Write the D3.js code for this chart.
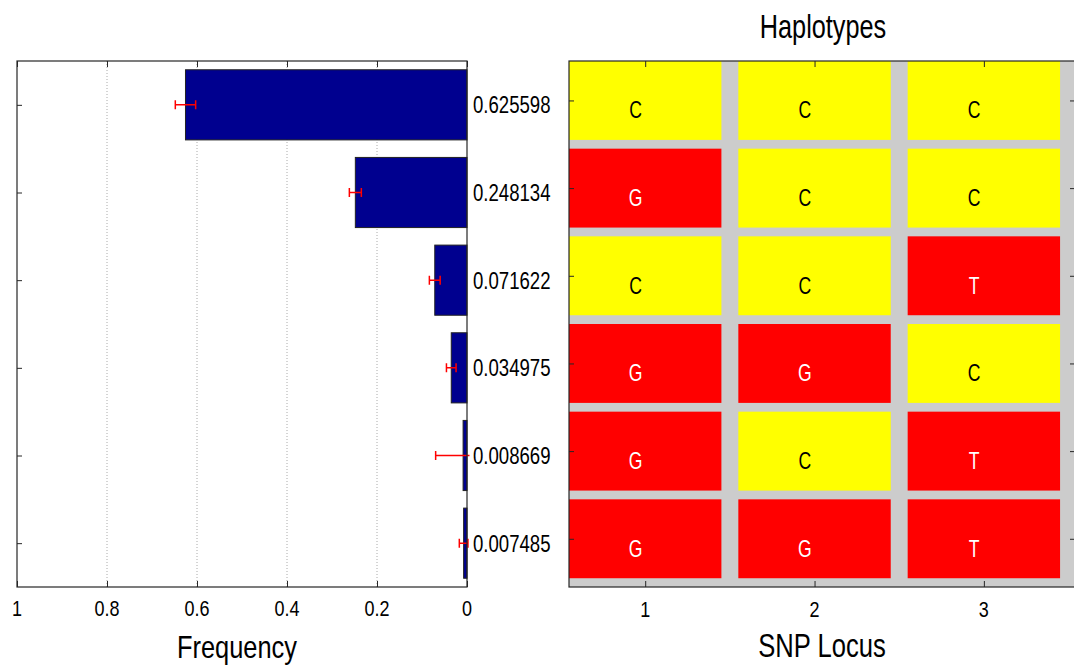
<!DOCTYPE html>
<html>
<head>
<meta charset="utf-8">
<script src="https://cdn.jsdelivr.net/npm/d3@7/dist/d3.min.js"></script>
<style>
  html, body { margin: 0; padding: 0; background: #ffffff; }
  svg { display: block; }
  text { font-family: "Liberation Sans", Arial, Helvetica, sans-serif; fill: #000; }
</style>
</head>
<body>
<svg id="chart" width="1074" height="671"></svg>
<script>
// Haplotype frequencies (top to bottom) with their standard errors
const haplotypeFreq = [0.625598, 0.248134, 0.071622, 0.034975, 0.008669, 0.007485];
const freqError     = [0.0226, 0.0133, 0.012, 0.0107, 0.061, 0.0096];
const freqLabels    = ["0.625598", "0.248134", "0.071622", "0.034975", "0.008669", "0.007485"];

// Alleles at each SNP locus for every haplotype
const snpLoci = [1, 2, 3];
const haplotypes = [
  ["C", "C", "C"],
  ["G", "C", "C"],
  ["C", "C", "T"],
  ["G", "G", "C"],
  ["G", "C", "T"],
  ["G", "G", "T"]
];
const freqTicks = [1, 0.8, 0.6, 0.4, 0.2, 0];

const svg = d3.select("#chart");
const rows = d3.range(1, haplotypes.length + 1);

// Text drawn with a vertical stretch to mimic the tall, narrow figure font
function label(g, x, y, str, size, k, anchor, color) {
  return g.append("g")
    .attr("transform", `translate(${x},${y}) scale(1,${k})`)
    .append("text")
    .attr("text-anchor", anchor || "middle")
    .style("font-size", size + "px")
    .style("fill", color || "#000")
    .text(str);
}

/* ---------------- Left panel: frequency bars ---------------- */
const L = { left: 17, right: 467, top: 61, bottom: 587 };
const xF = d3.scaleLinear().domain([1, 0]).range([L.left, L.right]);
const yRow = d3.scaleLinear().domain([0.5, 6.5]).range([L.top, L.bottom]);

const left = svg.append("g");

// dotted vertical grid
left.selectAll("line.grid")
  .data(freqTicks.filter(t => t > 0 && t < 1))
  .join("line")
  .attr("x1", d => xF(d)).attr("x2", d => xF(d))
  .attr("y1", L.top).attr("y2", L.bottom)
  .attr("stroke", "#aaaaaa").attr("stroke-width", 1)
  .attr("stroke-dasharray", "1,2");

// bars
left.selectAll("rect.bar")
  .data(haplotypeFreq)
  .join("rect")
  .attr("x", d => xF(d))
  .attr("y", (d, i) => yRow(i + 1 - 0.4))
  .attr("width", d => xF(0) - xF(d))
  .attr("height", yRow(1.4) - yRow(0.6))
  .attr("fill", "#00008f")
  .attr("stroke", "#222").attr("stroke-width", 1);

// error bars, clipped to the axes area
svg.append("clipPath").attr("id", "clipL")
  .append("rect").attr("x", L.left).attr("y", L.top)
  .attr("width", L.right - L.left + 2.5).attr("height", L.bottom - L.top);
const eb = left.append("g").attr("clip-path", "url(#clipL)")
  .attr("stroke", "#ff0000").attr("stroke-width", 1.5).attr("fill", "none");
haplotypeFreq.forEach((f, i) => {
  const yc = yRow(i + 1), x0 = xF(f - freqError[i]), x1 = xF(f + freqError[i]);
  eb.append("line").attr("x1", x0).attr("x2", x1).attr("y1", yc).attr("y2", yc);
  eb.append("line").attr("x1", x0).attr("x2", x0).attr("y1", yc - 4.5).attr("y2", yc + 4.5);
  eb.append("line").attr("x1", x1).attr("x2", x1).attr("y1", yc - 4.5).attr("y2", yc + 4.5);
});

// axis ticks (inward)
left.append("g").attr("transform", `translate(0,${L.top})`)
  .call(d3.axisBottom(xF).tickValues(freqTicks).tickSizeInner(6).tickSizeOuter(0).tickFormat(""));
left.append("g").attr("transform", `translate(0,${L.bottom})`)
  .call(d3.axisTop(xF).tickValues(freqTicks).tickSizeInner(6).tickSizeOuter(0).tickFormat(""));
left.append("g").attr("transform", `translate(${L.left},0)`)
  .call(d3.axisRight(yRow).tickValues(rows).tickSizeInner(5).tickSizeOuter(0).tickFormat(""));
left.selectAll(".domain").remove();
left.selectAll(".tick line").attr("stroke", "#262626");

// box
left.append("rect")
  .attr("x", L.left).attr("y", L.top)
  .attr("width", L.right - L.left).attr("height", L.bottom - L.top)
  .attr("fill", "none").attr("stroke", "#262626").attr("stroke-width", 1.2);

// tick labels and value labels
freqTicks.forEach(t => label(left, xF(t), 616, String(t), 18, 1.18));
freqLabels.forEach((s, i) => label(left, L.right + 6, yRow(i + 1) + 8.4, s, 18.6, 1.25, "start"));
label(left, 237, 658, "Frequency", 25.4, 1.2);

/* ---------------- Right panel: haplotype alleles ---------------- */
const R = { left: 569, right: 1077, top: 61, bottom: 587 };
const xL = d3.scaleLinear().domain([0.55, 3.55]).range([R.left, R.right]);
const yH = d3.scaleLinear().domain([0.55, 6.55]).range([R.top, R.bottom]);
const right = svg.append("g");

right.append("rect")
  .attr("x", R.left).attr("y", R.top)
  .attr("width", R.right - R.left).attr("height", R.bottom - R.top)
  .attr("fill", "#cccccc");

// major allele = allele of the most frequent haplotype; others are minor
const cells = [];
haplotypes.forEach((h, i) => h.forEach((a, j) => {
  cells.push({ row: i + 1, locus: snpLoci[j], allele: a, minor: a !== haplotypes[0][j] });
}));

right.selectAll("rect.cell")
  .data(cells)
  .join("rect")
  .attr("x", d => xL(d.locus - 0.45))
  .attr("y", d => yH(d.row - 0.45))
  .attr("width", d => xL(d.locus + 0.45) - xL(d.locus - 0.45))
  .attr("height", d => yH(d.row + 0.45) - yH(d.row - 0.45))
  .attr("fill", d => d.minor ? "#ff0000" : "#ffff00");

cells.forEach(d => {
  label(right, xL(d.locus - 0.057), yH(d.row + 0.108) + 8.4, d.allele, 17.6, 1.35,
        "middle", d.minor ? "#ffffff" : "#000000");
});

// axis ticks (inward)
right.append("g").attr("transform", `translate(0,${R.top})`)
  .call(d3.axisBottom(xL).tickValues(snpLoci).tickSizeInner(6).tickSizeOuter(0).tickFormat(""));
right.append("g").attr("transform", `translate(0,${R.bottom})`)
  .call(d3.axisTop(xL).tickValues(snpLoci).tickSizeInner(6).tickSizeOuter(0).tickFormat(""));
right.append("g").attr("transform", `translate(${R.left},0)`)
  .call(d3.axisRight(yH).tickValues(rows).tickSizeInner(5).tickSizeOuter(0).tickFormat(""));
right.append("g").attr("transform", `translate(${R.right},0)`)
  .call(d3.axisLeft(yH).tickValues(rows).tickSizeInner(7).tickSizeOuter(0).tickFormat(""));
right.selectAll(".domain").remove();
right.selectAll(".tick line").attr("stroke", "#262626");

right.append("rect")
  .attr("x", R.left).attr("y", R.top)
  .attr("width", R.right - R.left).attr("height", R.bottom - R.top)
  .attr("fill", "none").attr("stroke", "#262626").attr("stroke-width", 1.2);

snpLoci.forEach(l => label(right, xL(l), 617, String(l), 18, 1.18));
label(right, 822, 656.7, "SNP Locus", 25.6, 1.33);
label(right, 823, 38.3, "Haplotypes", 25.3, 1.29);
</script>
</body>
</html>
